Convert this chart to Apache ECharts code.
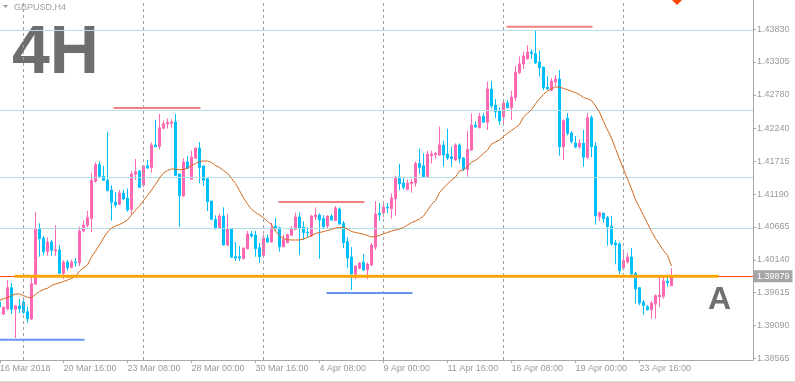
<!DOCTYPE html>
<html><head><meta charset="utf-8">
<script src="https://cdn.jsdelivr.net/npm/echarts@6/dist/echarts.min.js"></script>
<style>html,body{margin:0;padding:0;background:#fff}#c{width:795px;height:382px}</style>
</head><body><div id="c"></div>
<script>
// ---- tick labels ----
const xTickLabels = ['16 Mar 2018','20 Mar 16:00','23 Mar 08:00','28 Mar 00:00','30 Mar 16:00','4 Apr 08:00','9 Apr 00:00','11 Apr 16:00','16 Apr 08:00','19 Apr 00:00','23 Apr 16:00'];
const xTickBars = [0.125,16,32,48,64,80,96,112,128,144,160];
const yTickValues = [1.43830,1.43305,1.42780,1.42240,1.41715,1.41190,1.40665,1.40140,1.39615,1.39090,1.38565];

// ---- GBPUSD H4 candles (bar 0 = 16 Mar 2018 00:00) ----
const open = [1.39465,1.39273,1.39353,1.39694,1.39348,1.39401,1.39465,1.39310,1.39193,1.39748,
1.40633,1.40489,1.40270,1.40425,1.40281,1.40297,1.39924,1.40105,1.40014,1.40105,
1.40094,1.40601,1.40692,1.40798,1.41396,1.41662,1.41481,1.41412,1.41257,1.41065,
1.41028,1.41209,1.41129,1.40948,1.41508,1.41561,1.41337,1.41646,1.41614,1.41977,
1.41950,1.42244,1.42313,1.42324,1.42345,1.41513,1.41161,1.41705,1.41428,1.41764,
1.41929,1.41641,1.41438,1.41081,1.40788,1.40654,1.40841,1.40377,1.40633,1.40190,
1.40190,1.40158,1.40318,1.40553,1.40537,1.40334,1.40212,1.40489,1.40425,1.40681,
1.40654,1.40350,1.40414,1.40532,1.40628,1.40825,1.40665,1.40585,1.40521,1.40830,
1.40857,1.40798,1.40681,1.40841,1.40766,1.40953,1.40724,1.40430,1.40185,1.39913,
1.40004,1.40100,1.39982,1.40057,1.40345,1.40884,1.40889,1.40985,1.40958,1.41118,
1.41465,1.41369,1.41262,1.41358,1.41369,1.41681,1.41646,1.41470,1.41804,1.41822,
1.41817,1.41977,1.41833,1.41790,1.41737,1.41977,1.41769,1.41588,1.41897,1.42297,
1.42254,1.42436,1.42342,1.42873,1.42617,1.42526,1.42430,1.42649,1.42574,1.42734,
1.43134,1.43273,1.43353,1.43465,1.43438,1.43305,1.43225,1.42905,1.42852,1.42990,
1.43033,1.41950,1.42409,1.42169,1.42009,1.41945,1.42009,1.41780,1.42414,1.41961,
1.40830,1.40889,1.40814,1.40676,1.40409,1.40393,1.40009,1.40105,1.40185,1.39924,
1.39694,1.39465,1.39390,1.39342,1.39433,1.39550,1.39556,1.39801,1.39726];
const high = [1.39513,1.39401,1.39817,1.39769,1.39417,1.39513,1.39518,1.39390,1.39865,1.40905,
1.40724,1.40521,1.40500,1.40462,1.40692,1.40377,1.40137,1.40137,1.40142,1.40169,
1.40670,1.40777,1.40921,1.41534,1.41700,1.41716,1.41646,1.42185,1.41332,1.41225,
1.41257,1.41262,1.41284,1.41561,1.41753,1.41577,1.41641,1.41737,1.42020,1.42377,
1.42473,1.42366,1.42404,1.42388,1.42473,1.41513,1.41769,1.41804,1.41886,1.41940,
1.42025,1.41652,1.41454,1.41086,1.40852,1.40878,1.40980,1.40873,1.40638,1.40425,
1.40361,1.40340,1.40601,1.40601,1.40601,1.40409,1.40542,1.40542,1.40729,1.40814,
1.40670,1.40542,1.40558,1.40681,1.40894,1.40900,1.40756,1.40660,1.40857,1.40980,
1.40884,1.40852,1.40846,1.40873,1.41001,1.40980,1.40761,1.40505,1.40345,1.40052,
1.40105,1.40233,1.40100,1.40409,1.41081,1.41049,1.41049,1.41049,1.41204,1.41486,
1.41673,1.41460,1.41428,1.41428,1.41713,1.41918,1.41844,1.41886,1.41886,1.41865,
1.42270,1.42046,1.42238,1.41950,1.42004,1.42004,1.41785,1.42201,1.42484,1.42356,
1.42489,1.42484,1.42990,1.43001,1.42713,1.42580,1.42697,1.42697,1.42841,1.43241,
1.43396,1.43470,1.43577,1.43508,1.43801,1.43492,1.43225,1.43081,1.43049,1.43097,
1.43177,1.42388,1.42489,1.42201,1.42121,1.42073,1.42217,1.42489,1.42452,1.42025,
1.40910,1.40889,1.40841,1.40846,1.40457,1.40425,1.40297,1.40254,1.40329,1.39945,
1.39700,1.39497,1.39417,1.39486,1.39588,1.39876,1.39876,1.39876,1.40004];
const low = [1.39353,1.39257,1.39337,1.39273,1.38889,1.39289,1.39273,1.39134,1.39177,1.39737,
1.40190,1.40217,1.40206,1.40206,1.40206,1.39908,1.39833,1.39966,1.40004,1.40030,
1.40041,1.40580,1.40660,1.40585,1.41374,1.41454,1.41401,1.41246,1.40766,1.40980,
1.41017,1.41097,1.40910,1.40868,1.41417,1.41300,1.41305,1.41593,1.41534,1.41950,
1.41913,1.42228,1.42244,1.42253,1.41481,1.40670,1.41150,1.41593,1.41417,1.41758,
1.41364,1.41321,1.40921,1.40777,1.40622,1.40644,1.40366,1.40356,1.40169,1.40121,
1.40121,1.40142,1.40308,1.40494,1.40190,1.40089,1.40201,1.40414,1.40414,1.40628,
1.40270,1.40340,1.40404,1.40521,1.40617,1.40217,1.40457,1.40500,1.40510,1.40777,
1.40158,1.40644,1.40644,1.40766,1.40761,1.40702,1.40329,1.40004,1.39657,1.39833,
1.39988,1.39966,1.39830,1.40041,1.40297,1.40766,1.40820,1.40884,1.40798,1.40849,
1.41257,1.41262,1.41257,1.41214,1.41310,1.41513,1.41465,1.41460,1.41681,1.41758,
1.41806,1.41630,1.41737,1.41630,1.41726,1.41684,1.41561,1.41470,1.41886,1.42254,
1.42244,1.42340,1.42217,1.42564,1.42409,1.42297,1.42281,1.42564,1.42377,1.42681,
1.43113,1.43193,1.43348,1.43353,1.43273,1.43070,1.42852,1.42862,1.42841,1.42921,
1.41806,1.41737,1.42132,1.42004,1.41924,1.41924,1.41630,1.41748,1.41780,1.40702,
1.40761,1.40734,1.40366,1.40366,1.40068,1.39913,1.39972,1.40078,1.39908,1.39438,
1.39412,1.39262,1.39326,1.39198,1.39198,1.39385,1.39518,1.39710,1.39721];
const close = [1.39385,1.39380,1.39694,1.39348,1.39406,1.39358,1.39300,1.39198,1.39758,1.40633,
1.40478,1.40270,1.40425,1.40292,1.40302,1.39924,1.40100,1.40014,1.40105,1.40094,
1.40601,1.40697,1.40814,1.41412,1.41662,1.41476,1.41412,1.41246,1.41060,1.41017,
1.41209,1.41113,1.40937,1.41513,1.41550,1.41300,1.41641,1.41609,1.41977,1.41950,
1.42253,1.42318,1.42340,1.42345,1.41492,1.41166,1.41705,1.41604,1.41785,1.41929,
1.41614,1.41412,1.41070,1.40788,1.40654,1.40841,1.40377,1.40633,1.40182,1.40169,
1.40169,1.40329,1.40553,1.40521,1.40318,1.40190,1.40489,1.40425,1.40654,1.40638,
1.40350,1.40468,1.40542,1.40638,1.40825,1.40649,1.40574,1.40574,1.40841,1.40857,
1.40777,1.40670,1.40841,1.40777,1.40969,1.40713,1.40414,1.40169,1.39913,1.40041,
1.40089,1.39977,1.40073,1.40377,1.40873,1.40862,1.40985,1.40969,1.41129,1.41465,
1.41353,1.41300,1.41369,1.41385,1.41681,1.41617,1.41470,1.41833,1.41833,1.41844,
1.41977,1.41817,1.41769,1.41758,1.41977,1.41758,1.41588,1.41908,1.42297,1.42265,
1.42436,1.42342,1.42873,1.42601,1.42505,1.42361,1.42649,1.42574,1.42745,1.43145,
1.43278,1.43401,1.43465,1.43438,1.43289,1.43214,1.42894,1.42873,1.43001,1.43033,
1.41950,1.42366,1.42164,1.42030,1.41945,1.42009,1.41780,1.42414,1.41950,1.40841,
1.40894,1.40798,1.40670,1.40393,1.40377,1.39966,1.40129,1.40185,1.39913,1.39673,
1.39449,1.39406,1.39342,1.39449,1.39566,1.39577,1.39801,1.39774,1.39879];
// moving average line
const ma = [1.39489,1.39518,1.39537,1.39569,1.39593,1.39593,1.39569,1.39540,1.39537,1.39585,
1.39633,1.39665,1.39686,1.39729,1.39753,1.39769,1.39793,1.39817,1.39841,1.39873,
1.39961,1.40009,1.40057,1.40185,1.40281,1.40377,1.40489,1.40585,1.40649,1.40681,
1.40705,1.40737,1.40777,1.40857,1.40937,1.41001,1.41089,1.41169,1.41257,1.41345,
1.41449,1.41529,1.41569,1.41593,1.41590,1.41582,1.41585,1.41609,1.41649,1.41681,
1.41713,1.41721,1.41721,1.41697,1.41649,1.41617,1.41569,1.41521,1.41444,1.41361,
1.41249,1.41129,1.41033,1.40948,1.40897,1.40857,1.40814,1.40753,1.40705,1.40601,
1.40526,1.40481,1.40462,1.40457,1.40457,1.40457,1.40473,1.40497,1.40529,1.40561,
1.40577,1.40593,1.40609,1.40625,1.40649,1.40657,1.40660,1.40633,1.40593,1.40577,
1.40564,1.40550,1.40529,1.40505,1.40513,1.40529,1.40558,1.40577,1.40601,1.40617,
1.40633,1.40657,1.40697,1.40737,1.40761,1.40793,1.40841,1.40929,1.41025,1.41089,
1.41217,1.41289,1.41353,1.41417,1.41465,1.41561,1.41585,1.41630,1.41705,1.41732,
1.41785,1.41841,1.41897,1.41993,1.42025,1.42057,1.42113,1.42164,1.42209,1.42257,
1.42305,1.42425,1.42484,1.42542,1.42638,1.42718,1.42788,1.42841,1.42878,1.42908,
1.42902,1.42881,1.42862,1.42838,1.42814,1.42782,1.42737,1.42718,1.42689,1.42601,
1.42505,1.42353,1.42217,1.42089,1.41918,1.41753,1.41593,1.41430,1.41273,1.41102,
1.40977,1.40849,1.40721,1.40593,1.40481,1.40385,1.40289,1.40209,1.40041];

// ---- drawn objects (bar positions, prices) ----
const horizontalLevels = [1.43817,1.42537,1.41465,1.40649];
const weekSeparators = [6,36,66,96,126,156];
const resistanceSegs = [[28.5,50.25,1.42569],[69.75,91.25,1.41065],[126.75,148.25,1.43870]];
const supportSegs = [[-0.5,21.25,1.38862],[81.75,103.25,1.39609]];
const zoneSeg = [3.75,179.75,1.39879];
const bid = 1.39879;
const xMin = 0.125, xMax = 188.375;

const candles = open.map((o, i) => [i, o, close[i], low[i], high[i]]);
const maData = ma.map((v, i) => [i, v]);

const chart = echarts.init(document.getElementById('c'), null, {renderer: 'canvas'});
const segSeries = (seg, color, width, z) => ({
  type: 'line', silent: true, symbol: 'none', z: z, clip: true,
  data: [[seg[0], seg[2]], [seg[1], seg[2]]],
  lineStyle: {color: color, width: width}
});

chart.setOption({
  animation: false,
  backgroundColor: '#ffffff',
  grid: {left: 0, right: 42, top: 0, bottom: 22, containLabel: false, outerBoundsMode: 'none'},
  xAxis: [{
    type: 'value', min: xMin, max: xMax,
    axisLine: {show: true, onZero: false, lineStyle: {color: '#a8a8a8', width: 1}},
    axisTick: {show: true, length: 3, customValues: xTickBars, lineStyle: {color: '#a8a8a8'}},
    axisLabel: {
      show: true, customValues: xTickBars, align: 'left', margin: 4,
      color: '#9a9a9a', fontSize: 9, fontFamily: 'Liberation Sans',
      formatter: (v) => xTickLabels[Math.round(v / 16)]
    },
    splitLine: {show: false}
  }],
  yAxis: [{
    type: 'value', position: 'right', min: 1.38537, max: 1.44297, scale: true,
    axisLine: {show: true, lineStyle: {color: '#a8a8a8', width: 1}},
    axisTick: {show: true, length: 3, customValues: yTickValues, lineStyle: {color: '#a8a8a8'}},
    axisLabel: {show: true, customValues: yTickValues, margin: 4, color: '#9a9a9a', fontSize: 9,
      fontFamily: 'Liberation Sans', formatter: (v) => v.toFixed(5)},
    splitLine: {show: false}
  }],
  series: [
    {
      type: 'line', data: [], silent: true, z: 1,
      markLine: {
        silent: true, symbol: 'none', animation: false, precision: 5, label: {show: false},
        data: horizontalLevels.map(v => ({yAxis: v, lineStyle: {color: '#b0e0e6', width: 1, type: 'solid'}}))
          .concat(weekSeparators.map(v => ({xAxis: v, lineStyle: {color: '#a0a0a0', width: 1, type: [3, 3]}})))
      }
    },
    {
      type: 'candlestick', data: candles, encode: {x: 0, y: [1, 2, 3, 4]}, barWidth: 2, z: 3, clip: true,
      itemStyle: {color: '#ff69b4', color0: '#00bfff', borderColor: '#ff69b4', borderColor0: '#00bfff', borderWidth: 1},
      markLine: {
        silent: true, symbol: 'none', animation: false, precision: 5,
        data: [{yAxis: bid, lineStyle: {color: '#ff4500', width: 1, type: 'solid'},
          label: {show: true, position: 'end', distance: 1, formatter: () => bid.toFixed(5),
            backgroundColor: '#a6a6a6', color: '#ffffff', fontSize: 9, fontFamily: 'Liberation Sans', padding: [2, 3, 1, 3]}}]
      }
    },
    {
      type: 'line', data: maData, symbol: 'none', silent: true, z: 5,
      lineStyle: {color: '#d2691e', width: 1}
    },
    segSeries(zoneSeg, '#ffa500', 3, 6),
    ...resistanceSegs.map(s => segSeries(s, '#f08080', 2, 6)),
    ...supportSegs.map(s => segSeries(s, '#6495ed', 2, 6))
  ],
  graphic: [
    {type: 'polygon', silent: true, shape: {points: [[3, 5], [8, 5], [5.5, 8]]}, style: {fill: '#9a9a9a'}},
    {type: 'text', silent: true, x: 14, y: 7.5, style: {text: 'GBPUSD,H4', fill: '#a0a0a0', font: '9px "Liberation Sans"', textVerticalAlign: 'middle'}},
    {type: 'text', silent: true, x: 12, y: 54, style: {text: '4H', fill: '#6e6e6e', font: 'bold 68px "Liberation Sans"', textVerticalAlign: 'middle'}},
    {type: 'text', silent: true, x: 708, y: 300.5, style: {text: 'A', fill: '#707070', font: 'bold 32px "Liberation Sans"', textVerticalAlign: 'middle'}},
    {type: 'polygon', silent: true, shape: {points: [[672, 0], [682, 0], [677, 5]]}, style: {fill: '#ff4500'}},
    {type: 'line', silent: true, shape: {x1: 0, y1: 381.5, x2: 795, y2: 381.5}, style: {stroke: '#d4d4d4', lineWidth: 1}}
  ]
});
</script>
</body></html>
